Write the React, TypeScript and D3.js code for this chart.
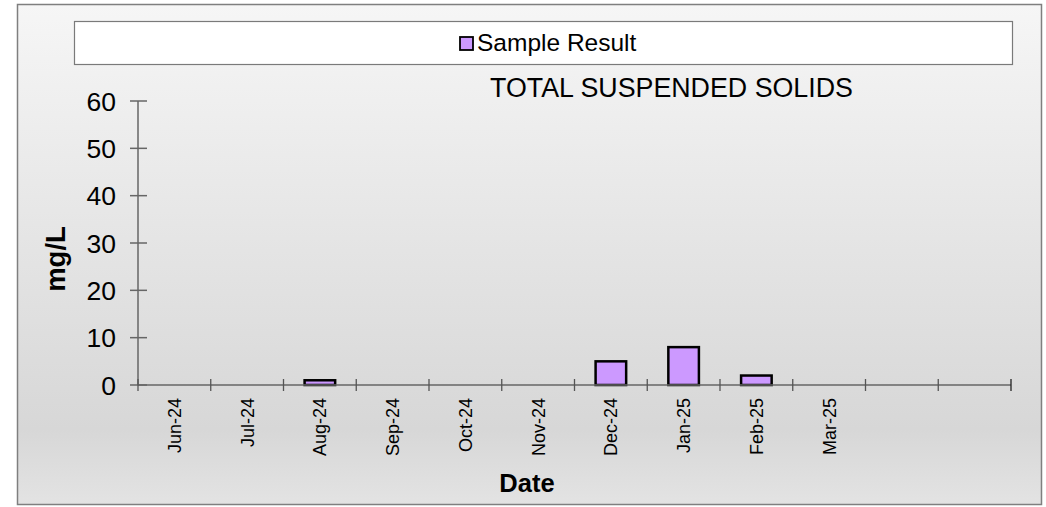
import React from "react";
import * as d3 from "d3";

const categories = ["Jun-24", "Jul-24", "Aug-24", "Sep-24", "Oct-24", "Nov-24", "Dec-24", "Jan-25", "Feb-25", "Mar-25", "", " "];
const values: (number | null)[] = [null, null, 1, null, null, null, 5, 8, 2, null, null, null];
const yTicks = [0, 10, 20, 30, 40, 50, 60];

export default function App() {
  const W = 1046, H = 507;
  const left = 138, right = 1011, top = 101, bottom = 385;
  const x = d3.scaleBand<string>().domain(categories).range([left, right]).paddingInner(0).paddingOuter(0);
  const y = d3.scaleLinear().domain([0, 60]).range([bottom, top]);
  const bw = x.bandwidth() * 0.42;
  const font = "Liberation Sans, Arial, sans-serif";
  const tickXs = categories.map((c) => x(c) as number).concat([right]);
  return (
    <svg width={W} height={H} style={{ position: "absolute", left: 0, top: 0 }} fontFamily={font}>
      <defs>
        <linearGradient id="bg" x1="0" y1="0" x2="0" y2="1">
          <stop offset="0" stopColor="#f6f6f6" />
          <stop offset="0.85" stopColor="#d7d7d7" />
          <stop offset="1" stopColor="#e3e3e3" />
        </linearGradient>
      </defs>
      <rect x={17.5} y={4.5} width={1024} height={500} fill="url(#bg)" stroke="#7f7f7f" strokeWidth={1.5} />
      <rect x={74.5} y={21.5} width={938} height={43} fill="#ffffff" stroke="#7a7a7a" strokeWidth={1.2} />
      <rect x={460} y={37} width={13} height={13} fill="#cc99ff" stroke="#000" strokeWidth={1.8} />
      <text x={477} y={51} fontSize={24.5} fill="#000">Sample Result</text>
      <text x={671.5} y={97} fontSize={26.8} textAnchor="middle" fill="#000">TOTAL SUSPENDED SOLIDS</text>
      {/* bars */}
      {categories.map((c, i) => {
        const v = values[i];
        if (v == null) return null;
        const cx = (x(c) as number) + x.bandwidth() / 2;
        return (
          <rect key={"b" + i} x={cx - bw / 2} y={y(v)} width={bw} height={y(0) - y(v)} fill="#cc99ff" stroke="#000" strokeWidth={2.5} />
        );
      })}
      {/* y axis */}
      <line x1={left} x2={left} y1={y(60)} y2={y(0)} stroke="#666" strokeWidth={1.5} />
      {yTicks.map((t) => (
        <g key={"y" + t}>
          <line x1={130} x2={147} y1={y(t)} y2={y(t)} stroke="#666" strokeWidth={1.5} />
          <text x={116} y={y(t)} dy="0.36em" fontSize={26.5} textAnchor="end" fill="#000">{t}</text>
        </g>
      ))}
      {/* x axis */}
      <line x1={left} x2={right} y1={y(0)} y2={y(0)} stroke="#666" strokeWidth={1.5} />
      {tickXs.map((tx, i) => (
        <line key={"xt" + i} x1={tx} x2={tx} y1={y(0) - 6} y2={y(0) + 6} stroke={i === tickXs.length - 1 ? "#222" : "#555"} strokeWidth={1.3} />
      ))}
      {categories.map((c, i) => {
        const cx = (x(c) as number) + x.bandwidth() / 2;
        return (
          <text key={"xl" + i} transform={`translate(${cx + 6.5},398) rotate(-90)`} fontSize={18} textAnchor="end" fill="#000">{c.trim()}</text>
        );
      })}
      <text transform="translate(65,259) rotate(-90)" fontSize={27.5} fontWeight="bold" textAnchor="middle" fill="#000">mg/L</text>
      <text x={527} y={492} fontSize={25.5} fontWeight="bold" textAnchor="middle" fill="#000">Date</text>
    </svg>
  );
}
